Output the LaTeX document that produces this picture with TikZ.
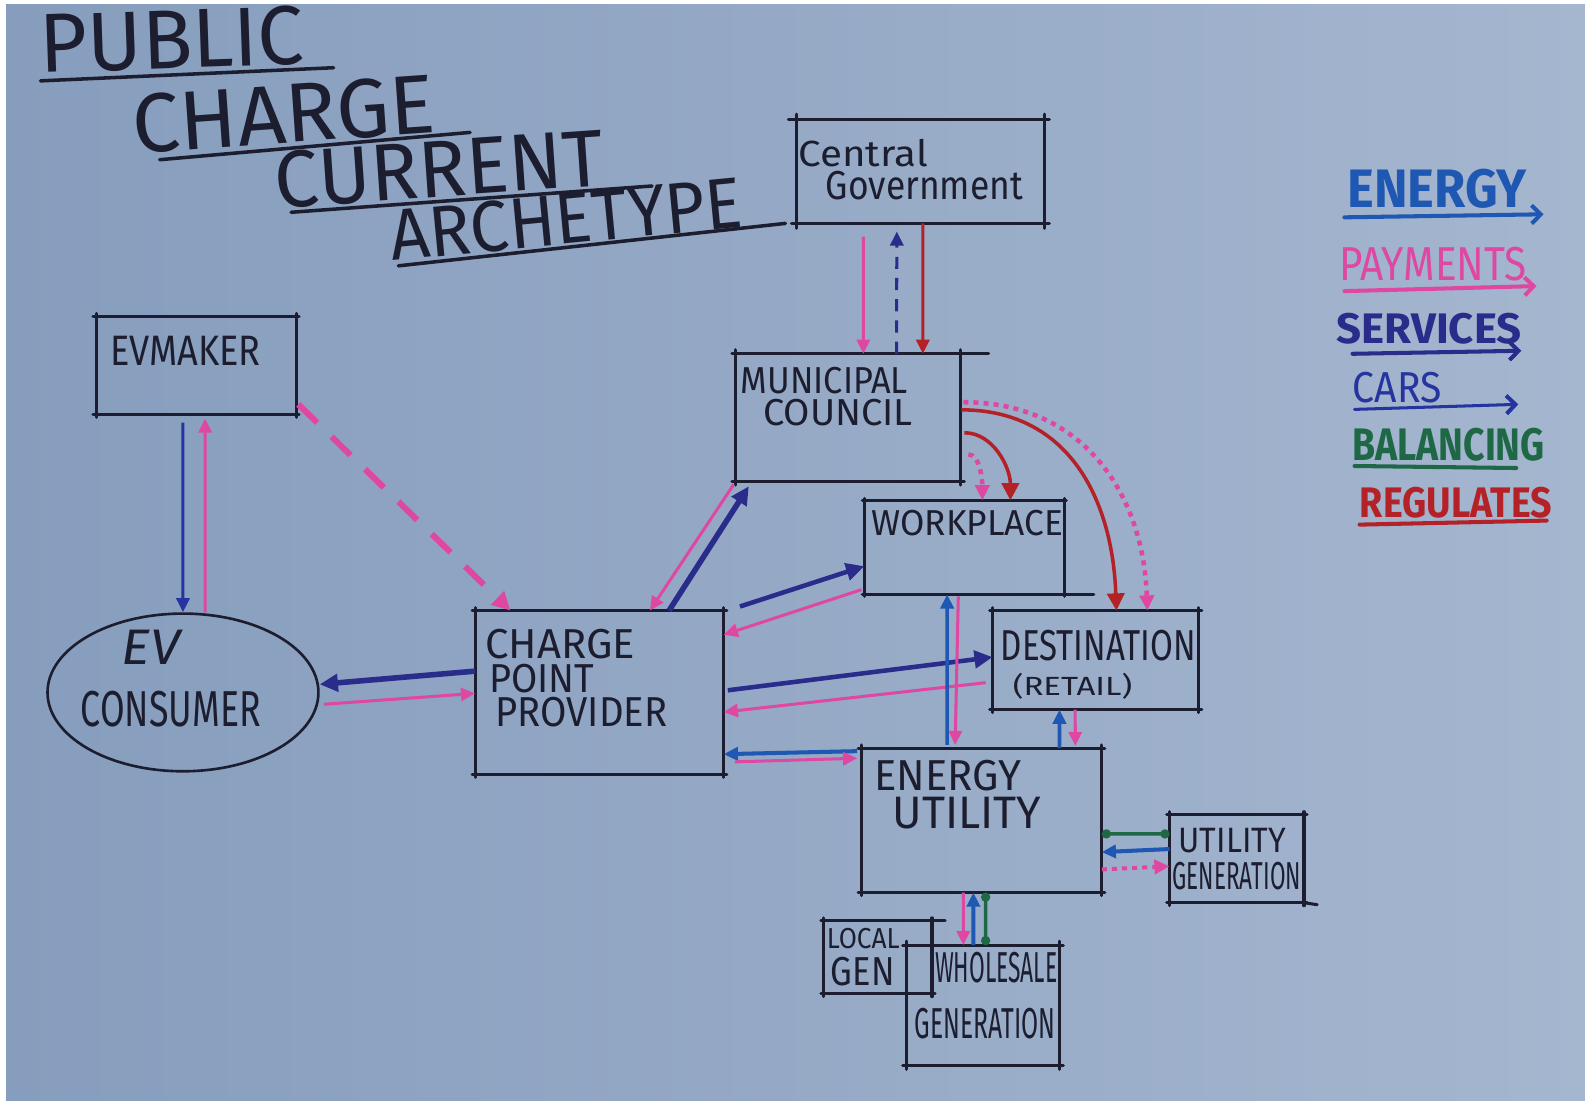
\documentclass[tikz,border=0pt]{standalone}
\usepackage{fontspec}
\usepackage{graphicx}
\newfontfamily\hand{Fira Sans}
\newfontfamily\handlight{Fira Sans}
\usetikzlibrary{arrows.meta,calc,shapes.geometric}

\definecolor{ink}{RGB}{28,30,48}
\definecolor{energy}{RGB}{30,88,178}
\definecolor{pay}{RGB}{222,72,162}
\definecolor{serv}{RGB}{42,44,140}
\definecolor{cars}{RGB}{38,52,160}
\definecolor{bal}{RGB}{30,104,70}
\definecolor{reg}{RGB}{180,34,40}
\definecolor{bgL}{RGB}{134,157,189}
\definecolor{bgR}{RGB}{165,182,207}

% marker-style lettering, stretched to a given width and height
\newcommand\handtext[7][ink]{%
  \node[anchor=base west,inner sep=0pt,outer sep=0pt,text=#1] (#2) at (#3,#4)
    {\resizebox{#5pt}{#6pt}{\handlight #7}};}

% rough frame round a box node, with the lines running past the corners
\newcommand\sketchframe[2]{%
  \draw[boxline] ([xshift=-#2pt]#1.north west) -- ([xshift=#2pt]#1.north east);
  \draw[boxline] ([xshift=-#2pt]#1.south west) -- ([xshift=#2pt]#1.south east);
  \draw[boxline] ([yshift=#2pt]#1.north west) -- ([yshift=-#2pt]#1.south west);
  \draw[boxline] ([yshift=#2pt]#1.north east) -- ([yshift=-#2pt]#1.south east);}

\tikzset{
  boxline/.style={draw=ink,line width=3pt,line cap=round},
  stakeholder/.style={inner sep=0pt,outer sep=0pt,rectangle},
  flow/.style={line width=3pt,-{Triangle[length=14pt,width=13pt]}},
  heavy/.style={line width=5.5pt,-{Triangle[length=18pt,width=17pt]}},
  dotflow/.style={line width=4.5pt,dash pattern=on 5pt off 5pt,-{Triangle[length=15pt,width=14pt]}},
  balance/.style={bal,line width=3.5pt,{Circle[length=9pt]}-{Circle[length=9pt]}},
  keyarrow/.style={line width=4pt,line cap=round,-{Straight Barb[length=9pt,width=18pt,line width=4pt]}},
  keyline/.style={line width=4pt,line cap=round},
  titleline/.style={ink,line width=3.5pt,line cap=round},
  titletext/.style={anchor=base west,inner sep=0pt,outer sep=0pt,text=ink}
}

\begin{document}
\begin{tikzpicture}[x=1pt,y=-1pt]
\useasboundingbox (0,0) rectangle (1568,1089);
\fill[white] (0,0) rectangle (1568,1089);
\shade[left color=bgL,right color=bgR] (6,4) rectangle (1568,1089);

% ---------- title ----------
\node[titletext,rotate=2] (t1) at (40,72) {\resizebox{262pt}{58pt}{\handlight PUBLIC}};
\node[titletext,rotate=4] (t2) at (133,152) {\resizebox{300pt}{58pt}{\handlight CHARGE}};
\node[titletext,rotate=4] (t3) at (274,206) {\resizebox{326pt}{56pt}{\handlight CURRENT}};
\node[titletext,rotate=5.5] (t4) at (388,258) {\resizebox{350pt}{50pt}{\handlight ARCHETYPE}};
\draw[titleline] (40,80) -- (330,67);
\draw[titleline] (158,158) -- (465,131);
\draw[titleline] (288,210) -- (645,184);
\draw[titleline] (394,263) -- (777,221);

% ---------- stakeholders ----------
\node[stakeholder,minimum width=245pt,minimum height=103pt] (cg)  at (910.5,169.5) {};
\node[stakeholder,minimum width=222pt,minimum height=126pt] (mc)  at (839,413) {};
\node[stakeholder,minimum width=198pt,minimum height=97pt]  (evm) at (194,361.5) {};
\node[draw=ink,line width=2.6pt,ellipse,inner sep=0pt,minimum width=268pt,minimum height=156pt] (ev) at (181,685) {};
\node[stakeholder,minimum width=246pt,minimum height=162pt] (cpp) at (593,685) {};
\node[stakeholder,minimum width=198pt,minimum height=93pt]  (wp)  at (954,541.5) {};
\node[stakeholder,minimum width=204pt,minimum height=98pt]  (dst) at (1084,653) {};
\node[stakeholder,minimum width=238pt,minimum height=143pt] (eu)  at (971,811.5) {};
\node[stakeholder,minimum width=133pt,minimum height=87pt]  (ug)  at (1223.5,849.5) {};
\node[stakeholder,minimum width=107pt,minimum height=72pt]  (lg)  at (868.5,947) {};
\node[stakeholder,minimum width=151pt,minimum height=119pt] (wg)  at (972.5,994.5) {};

\sketchframe{cg}{5}
\sketchframe{mc}{4}
\sketchframe{evm}{3}
\sketchframe{cpp}{3}
\sketchframe{wp}{2}
\sketchframe{dst}{3}
\sketchframe{eu}{3}
\sketchframe{ug}{3}
\sketchframe{lg}{3}
\sketchframe{wg}{4}
% strokes that run on past the frames
\draw[boxline] (mc.north east) -- ++(28,0);
\draw[boxline] (wp.south east) -- ++(29,0);
\draw[boxline] (lg.north east) -- ++(13,0);
\draw[boxline] (ug.south east) -- ++(13,2);
\draw[boxline] (cg.north west) -- ++(-8,0);

% ---------- box labels ----------
\handtext{cgA}{790}{165}{128}{27}{Central}
\handtext{cgB}{817}{197}{195}{28}{Government}
\handtext{mcA}{733}{389}{165}{26}{MUNICIPAL}
\handtext{mcB}{755}{421}{148}{26}{COUNCIL}
\handtext{evmA}{109}{362}{149}{29}{EVMAKER}
\node[anchor=base west,inner sep=0pt,text=ink] (evA) at (120,657) {\resizebox{58pt}{34pt}{\handlight\itshape EV}};
\handtext{evB}{80}{719}{178}{35}{CONSUMER}
\handtext{cppA}{480}{651}{148}{29}{CHARGE}
\handtext{cppB}{484}{685}{104}{28}{POINT}
\handtext{cppC}{490}{719}{170}{29}{PROVIDER}
\handtext{wpA}{862}{530}{190}{25}{WORKPLACE}
\handtext{dstA}{990}{653}{193}{30}{DESTINATION}
\handtext{dstB}{1002}{688}{118}{22}{(RETAIL)}
\handtext{euA}{865}{782}{145}{30}{ENERGY}
\handtext{euB}{883}{820}{147}{31}{UTILITY}
\handtext{ugA}{1166}{843}{106}{24}{UTILITY}
\handtext{ugB}{1160}{880}{127}{27}{GENERATION}
\handtext{lgA}{818}{938}{72}{20}{LOCAL}
\handtext{lgB}{822}{975}{63}{28}{GEN}
\handtext{wgA}{925}{972}{121}{30}{WHOLESALE}
\handtext{wgB}{905}{1027}{139}{30}{GENERATION}

% ---------- Central Government / Municipal Council ----------
\draw[flow,pay,shorten <=13pt] ($(cg.south west)!.27!(cg.south east)$) -- ($(mc.north west)!.568!(mc.north east)$);
\draw[flow,serv,dash pattern=on 12pt off 9pt,shorten >=8pt] ($(mc.north west)!.716!(mc.north east)$) -- ($(cg.south west)!.405!(cg.south east)$);
\draw[flow,reg] ($(cg.south west)!.51!(cg.south east)$) -- ($(mc.north west)!.833!(mc.north east)$);

% ---------- EV maker / EV consumer ----------
\draw[flow,cars,shorten <=8pt] ($(evm.south west)!.434!(evm.south east)$) -- (ev.north);
\draw[flow,pay,shorten >=4pt] ([xshift=22pt]ev.north) -- ($(evm.south west)!.545!(evm.south east)$);
\draw[line width=6pt,pay,dash pattern=on 26pt off 20pt,-{Triangle[length=18pt,width=18pt]},shorten <=3pt]
  ($(evm.north east)!.876!(evm.south east)$) -- ($(cpp.north west)!.142!(cpp.north east)$);

% ---------- charge point provider / EV consumer ----------
\draw[heavy,serv] ($(cpp.north west)!.37!(cpp.south west)$) -- ([yshift=8pt]ev.east);
\draw[flow,pay,shorten <=4pt] ([yshift=-12pt]ev.east) -- ($(cpp.north west)!.506!(cpp.south west)$);

% ---------- charge point provider / municipal council ----------
\draw[flow,pay,shorten <=4pt] (mc.south west) -- ($(cpp.north west)!.703!(cpp.north east)$);
\draw[heavy,serv,shorten >=6pt] ($(cpp.north west)!.78!(cpp.north east)$) -- ($(mc.south west)!.072!(mc.south east)$);

% ---------- charge point provider / workplace ----------
\draw[heavy,serv,line width=4.5pt] ([xshift=16pt,yshift=4pt]cpp.north east) -- ($(wp.north west)!.70!(wp.south west)$);
\draw[flow,pay,shorten <=3pt] ($(wp.north west)!.94!(wp.south west)$) -- ($(cpp.north east)!.148!(cpp.south east)$);

% ---------- charge point provider / destination ----------
\draw[heavy,serv,line width=4.5pt,shorten <=4pt] ($(cpp.north east)!.49!(cpp.south east)$) -- ($(dst.north west)!.47!(dst.south west)$);
\draw[flow,pay,shorten <=7pt] ($(dst.north west)!.72!(dst.south west)$) -- ($(cpp.north east)!.62!(cpp.south east)$);

% ---------- charge point provider / energy utility ----------
\draw[flow,energy,line width=4pt,shorten <=4pt] ([yshift=-3pt]eu.north west) -- ($(cpp.north east)!.877!(cpp.south east)$);
\draw[flow,pay,shorten <=11pt,shorten >=4pt] ($(cpp.north east)!.926!(cpp.south east)$) -- ([yshift=-10pt]eu.north west);

% ---------- energy utility / workplace, destination ----------
\draw[flow,energy,line width=3.5pt,shorten <=3pt] ($(eu.north west)!.357!(eu.north east)$) -- ($(wp.south west)!.414!(wp.south east)$);
\draw[flow,pay,shorten <=2pt,shorten >=3pt] ($(wp.south west)!.47!(wp.south east)$) -- ($(eu.north west)!.39!(eu.north east)$);
\draw[flow,energy,line width=3.5pt] ($(eu.north west)!.824!(eu.north east)$) -- ($(dst.south west)!.324!(dst.south east)$);
\draw[flow,pay,shorten >=2pt] ($(dst.south west)!.40!(dst.south east)$) -- ($(eu.north west)!.89!(eu.north east)$);

% ---------- municipal council regulates ----------
\draw[flow,reg,line width=3.5pt,-{Triangle[length=17pt,width=17pt]},shorten <=4pt]
  ($(mc.north east)!.62!(mc.south east)$) to[out=0,in=90] ($(wp.north west)!.73!(wp.north east)$);
\draw[dotflow,pay,shorten <=8pt] ($(mc.north east)!.79!(mc.south east)$) to[out=0,in=90] ($(wp.north west)!.59!(wp.north east)$);
\draw[flow,reg,line width=3.5pt,-{Triangle[length=17pt,width=17pt]},shorten <=1pt]
  ($(mc.north east)!.44!(mc.south east)$) to[out=0,in=92,looseness=1.1] ($(dst.north west)!.60!(dst.north east)$);
\draw[dotflow,pay,shorten <=3pt] ($(mc.north east)!.38!(mc.south east)$) to[out=0,in=92,looseness=1.1] ($(dst.north west)!.75!(dst.north east)$);

% ---------- energy utility / utility generation ----------
\draw[balance] ($(eu.north east)!.594!(eu.south east)$) -- ($(ug.north west)!.218!(ug.south west)$);
\draw[flow,energy,line width=4pt] ($(ug.north west)!.39!(ug.south west)$) -- ($(eu.north east)!.72!(eu.south east)$);
\draw[dotflow,pay,line width=4pt] ($(eu.north east)!.84!(eu.south east)$) -- ($(ug.north west)!.586!(ug.south west)$);

% ---------- energy utility / wholesale generation ----------
\draw[flow,pay] ($(eu.south west)!.424!(eu.south east)$) -- ($(wg.north west)!.371!(wg.north east)$);
\draw[flow,energy,line width=4pt] ($(wg.north west)!.437!(wg.north east)$) -- ($(eu.south west)!.466!(eu.south east)$);
\draw[balance] ($(eu.south west)!.517!(eu.south east)$) -- ($(wg.north west)!.517!(wg.north east)$);

% ---------- key ----------
\node[anchor=base west,inner sep=0pt,text=energy] (kE) at (1333,205) {\resizebox{177pt}{38pt}{\hand\bfseries ENERGY}};
\node[anchor=base west,inner sep=0pt,text=pay]    (kP) at (1325,277) {\resizebox{185pt}{33pt}{\hand PAYMENTS}};
\node[anchor=base west,inner sep=0pt,text=serv]   (kS) at (1322,340) {\resizebox{183pt}{30pt}{\hand\bfseries SERVICES}};
\node[anchor=base west,inner sep=0pt,text=cars]   (kC) at (1338,398) {\resizebox{88pt}{30pt}{\handlight CARS}};
\node[anchor=base west,inner sep=0pt,text=bal]    (kB) at (1338,456) {\resizebox{190pt}{32pt}{\hand\bfseries BALANCING}};
\node[anchor=base west,inner sep=0pt,text=reg]    (kR) at (1345,512) {\resizebox{190pt}{30pt}{\hand\bfseries REGULATES}};
\draw[keyarrow,energy] ([shift={(-3pt,-10pt)}]kE.base west) -- ++(197,-3);
\draw[keyarrow,pay]    ([shift={(5pt,-11pt)}]kP.base west) -- ++(190,-5);
\draw[keyarrow,serv]   ([shift={(16pt,-10pt)}]kS.base west) -- ++(167,-3);
\draw[keyarrow,cars,line width=3pt] ([shift={(2pt,-7pt)}]kC.base west) -- ++(162,-5);
\draw[keyline,bal]     ([shift={(2pt,-5pt)}]kB.base west) -- ++(160,2);
\draw[keyline,reg]     ([shift={(0pt,-7pt)}]kR.base west) -- ++(185,-4);
\end{tikzpicture}
\end{document}
